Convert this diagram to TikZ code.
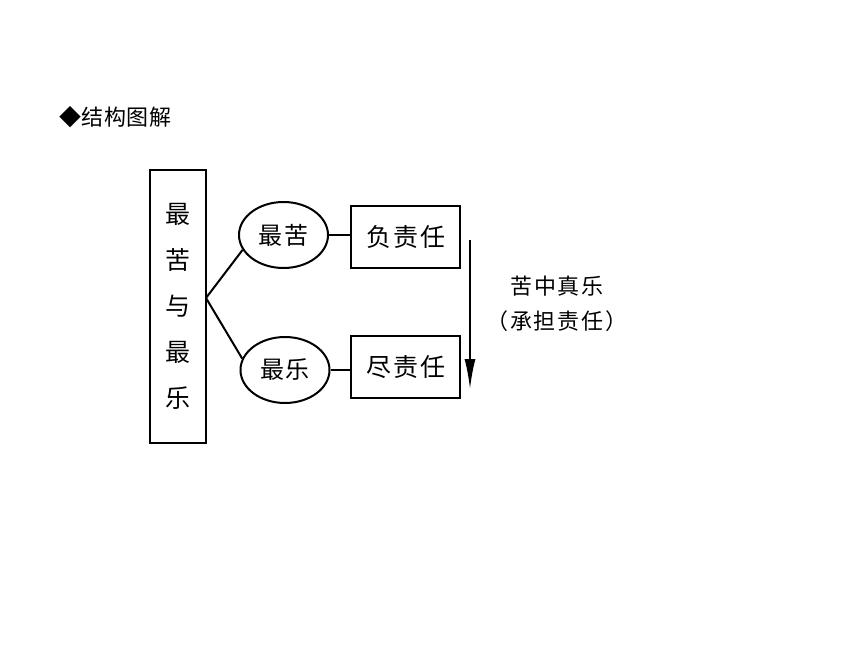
\documentclass[tikz,border=0pt]{standalone}
\usepackage{fontspec}
\setmainfont{Noto Sans CJK SC}
\newfontfamily\cjk[LetterSpace=8]{Noto Sans CJK SC}
\newfontfamily\cjknote[LetterSpace=9]{Noto Sans CJK SC}
\newfontfamily\cjkhead[LetterSpace=3]{Noto Sans CJK SC}
\usetikzlibrary{shapes.geometric}
\usetikzlibrary{arrows.meta}

\begin{document}
\begin{tikzpicture}[x=1pt,y=-1pt,
every node/.style = {line width=2pt, color=black, inner sep=0pt},
tallbox/.style = {draw, rectangle, minimum width=56pt, minimum height=273pt,
  align=center, font=\cjk\fontsize{25}{46}\selectfont},
oval/.style = {draw, ellipse, minimum width=89pt, minimum height=66pt,
  font=\cjk\fontsize{24}{28}\selectfont},
box/.style = {draw, rectangle, minimum width=109pt, minimum height=62pt,
  font=\cjk\fontsize{25}{30}\selectfont},
note/.style = {align=center, font=\cjknote\fontsize{22}{35}\selectfont},
link/.style = {line width=2pt, draw}
]
\useasboundingbox (0,0) rectangle (860,645);
\node [anchor=west, font=\cjkhead\fontsize{22}{24}\selectfont] (title) at (58,117) {◆结构图解};

\node [tallbox] (whole) at (178,306.5) {最\\苦\\与\\最\\乐};
\node [oval] (hard) at (283.5,235) {最苦};
\node [oval] (joy) at (285,370) {最乐};
\node [box] (duty) at (405.5,237) {负责任};
\node [box] (done) at (405.5,367) {尽责任};
\coordinate (fork) at (206,298);

\draw [link] (fork) -- (hard.200);
\draw [link] (fork) -- (joy.165);
\draw [link] (hard.east) -- (hard.east -| duty.west);
\draw [link] (joy.east) -- (joy.east -| done.west);

% arrow between the two duties
\coordinate (top) at (470,240);
\coordinate (bottom) at (470,389);
\draw [link, -{Latex[length=30pt,width=11pt]}] (top) -- (bottom);
\node [note] (gain) at (557,304) {苦中真乐\\（承担责任）};

\end{tikzpicture}
\end{document}
